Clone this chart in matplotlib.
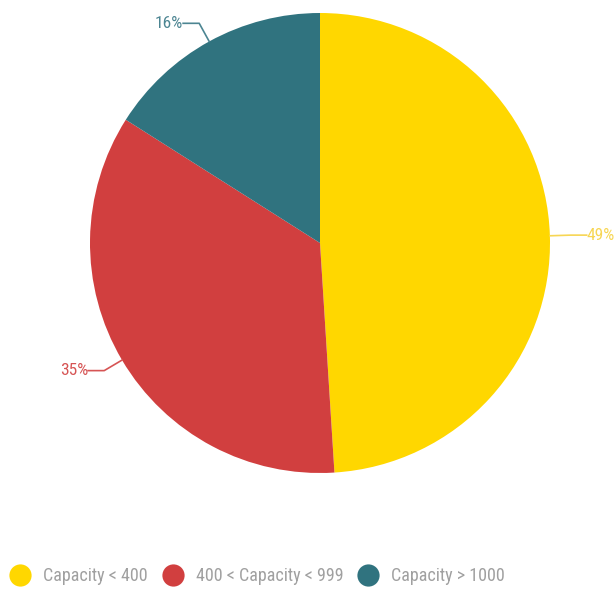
import numpy as np
import matplotlib
matplotlib.use('Agg')
import matplotlib.pyplot as plt
from matplotlib.lines import Line2D
from matplotlib import font_manager

# данные
labels = ['Capacity < 400', '400 < Capacity < 999', 'Capacity > 1000']
values = [49, 35, 16]
colors = ['#FFD700', '#D13F3F', '#30737F']
text_colors = ['#F7D654', '#D65454', '#4C8592']

names = {f.name for f in font_manager.fontManager.ttflist}
family = 'DejaVu Sans'
for cand in ['Liberation Sans Narrow', 'Roboto Condensed', 'Open Sans Condensed']:
    if cand in names:
        family = cand
        break
plt.rcParams['font.family'] = [family, 'DejaVu Sans']
plt.rcParams['font.stretch'] = 'condensed'

fig = plt.figure(figsize=(6.15, 6.0), dpi=100)
ax = fig.add_axes([90 / 615, 127 / 600, 460 / 615, 460 / 600])

wedges, _ = ax.pie(values, colors=colors, startangle=90, counterclock=False,
                   radius=1.0, wedgeprops=dict(linewidth=0))
ax.set_xlim(-1, 1)
ax.set_ylim(-1, 1)
ax.set_aspect('equal')
ax.axis('off')

# подписи с выносками
total = sum(values)
for w, v, c in zip(wedges, values, text_colors):
    ang = np.deg2rad((w.theta1 + w.theta2) / 2)
    x0, y0 = np.cos(ang), np.sin(ang)
    x1, y1 = 1.09 * x0, 1.09 * y0
    side = 1 if x0 >= 0 else -1
    x2 = x1 + side * 0.07
    ax.plot([x0, x1, x2], [y0, y1, y1], color=c, lw=1.2, clip_on=False)
    ax.text(x2, y1, f'{round(v / total * 100)}%', color=c,
            fontsize=12.5, ha='left' if side > 0 else 'right', va='center')

handles = [Line2D([], [], marker='o', ls='', markersize=16, color=c,
                  markeredgewidth=0) for c in colors]
fig.legend(handles, labels, loc='center', bbox_to_anchor=(0.418, 0.04),
           ncol=3, frameon=False, fontsize=13, labelcolor='#A0A0A0',
           handletextpad=0.67, columnspacing=0.78, handlelength=1.2)

fig.savefig('out.png', dpi=100)
